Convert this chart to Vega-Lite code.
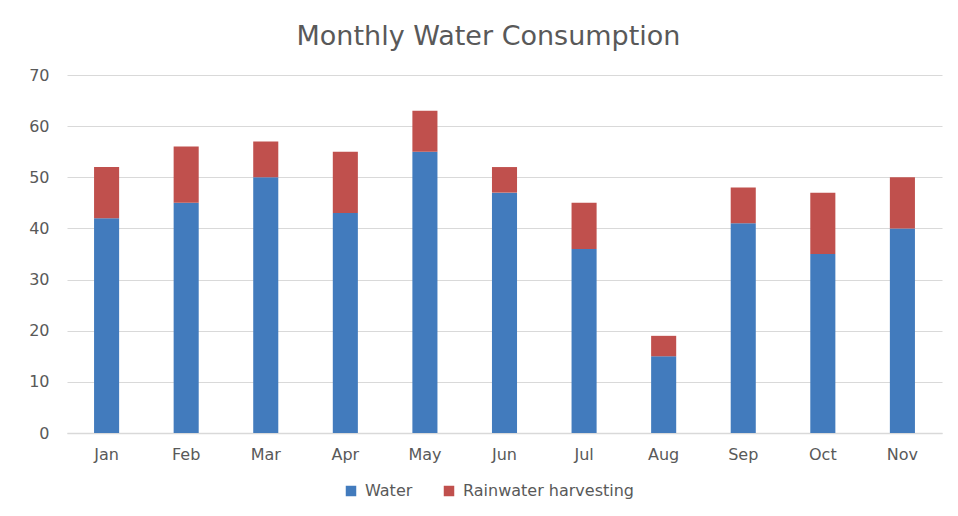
{
  "$schema": "https://vega.github.io/schema/vega-lite/v6.json",
  "autosize": "none",
  "width": 875,
  "height": 358,
  "padding": {"left": 67, "top": 75, "right": 16, "bottom": 83},
  "background": "white",
  "title": {
    "text": "Monthly Water Consumption",
    "font": "DejaVu Sans",
    "fontSize": 27,
    "fontWeight": "normal",
    "color": "#595959",
    "anchor": "middle",
    "dx": -16,
    "offset": 16
  },
  "data": {
    "values": [
      {"month": "Jan", "series": "Water", "value": 42},
      {"month": "Jan", "series": "Rainwater harvesting", "value": 10},
      {"month": "Feb", "series": "Water", "value": 45},
      {"month": "Feb", "series": "Rainwater harvesting", "value": 11},
      {"month": "Mar", "series": "Water", "value": 50},
      {"month": "Mar", "series": "Rainwater harvesting", "value": 7},
      {"month": "Apr", "series": "Water", "value": 43},
      {"month": "Apr", "series": "Rainwater harvesting", "value": 12},
      {"month": "May", "series": "Water", "value": 55},
      {"month": "May", "series": "Rainwater harvesting", "value": 8},
      {"month": "Jun", "series": "Water", "value": 47},
      {"month": "Jun", "series": "Rainwater harvesting", "value": 5},
      {"month": "Jul", "series": "Water", "value": 36},
      {"month": "Jul", "series": "Rainwater harvesting", "value": 9},
      {"month": "Aug", "series": "Water", "value": 15},
      {"month": "Aug", "series": "Rainwater harvesting", "value": 4},
      {"month": "Sep", "series": "Water", "value": 41},
      {"month": "Sep", "series": "Rainwater harvesting", "value": 7},
      {"month": "Oct", "series": "Water", "value": 35},
      {"month": "Oct", "series": "Rainwater harvesting", "value": 12},
      {"month": "Nov", "series": "Water", "value": 40},
      {"month": "Nov", "series": "Rainwater harvesting", "value": 10}
    ]
  },
  "mark": {"type": "bar"},
  "encoding": {
    "x": {
      "field": "month",
      "type": "nominal",
      "sort": null,
      "scale": {"paddingInner": 0.685, "paddingOuter": 0.34},
      "axis": {
        "title": null,
        "labelAngle": 0,
        "labelFont": "DejaVu Sans",
        "labelFontSize": 16,
        "labelColor": "#595959",
        "labelPadding": 13,
        "ticks": false,
        "domainColor": "#d9d9d9",
        "domainWidth": 1.5
      }
    },
    "y": {
      "field": "value",
      "type": "quantitative",
      "stack": "zero",
      "scale": {"domain": [0, 70]},
      "axis": {
        "title": null,
        "values": [0, 10, 20, 30, 40, 50, 60, 70],
        "labelFont": "DejaVu Sans",
        "labelFontSize": 16,
        "labelColor": "#595959",
        "labelPadding": 18,
        "ticks": false,
        "domain": false,
        "gridColor": "#d9d9d9",
        "gridWidth": 1
      }
    },
    "color": {
      "field": "series",
      "type": "nominal",
      "sort": ["Water", "Rainwater harvesting"],
      "scale": {"domain": ["Water", "Rainwater harvesting"], "range": ["#427BBD", "#C0504D"]},
      "legend": {
        "title": null,
        "orient": "none",
        "direction": "horizontal",
        "legendX": 276,
        "legendY": 408,
        "symbolType": "square",
        "symbolSize": 110,
        "symbolStrokeWidth": 0,
        "symbolOpacity": 1,
        "labelFont": "DejaVu Sans",
        "labelFontSize": 16,
        "labelColor": "#595959",
        "labelOffset": 6,
        "labelLimit": 400,
        "columnPadding": 28
      }
    }
  },
  "config": {"view": {"stroke": null}}
}
